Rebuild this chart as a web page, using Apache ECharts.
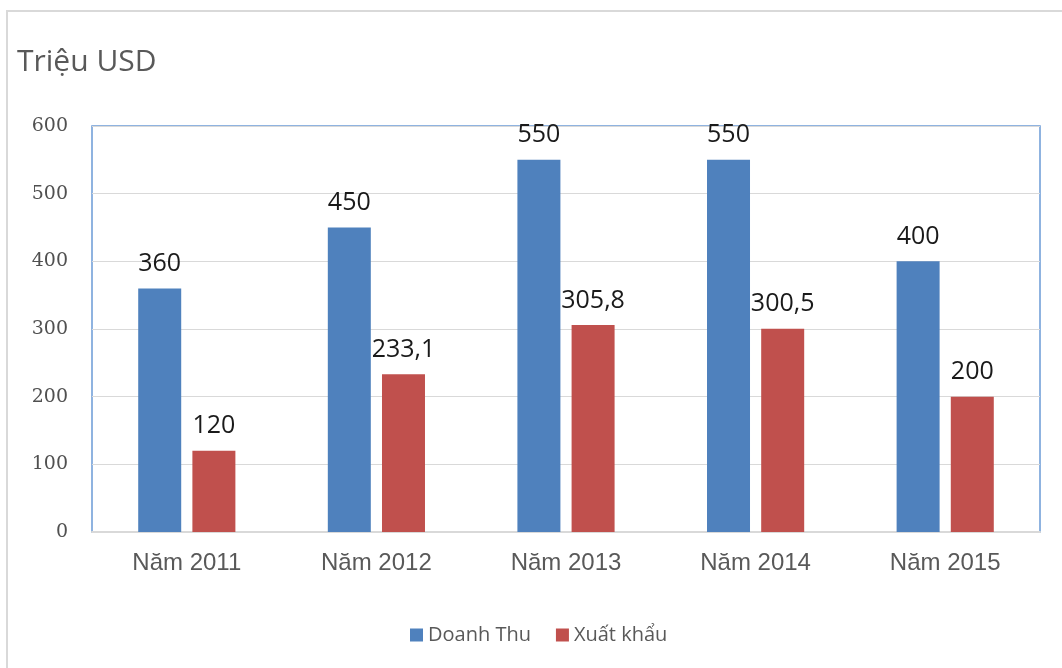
<!DOCTYPE html>
<html>
<head>
<meta charset="utf-8">
<script src="https://cdn.jsdelivr.net/npm/echarts@6/dist/echarts.min.js"></script>
<style>
  html, body { margin: 0; padding: 0; background: #fff; }
  #chart { width: 1062px; height: 668px; }
</style>
</head>
<body>
<div id="chart"></div>
<script>
// Revenue and export values per year (million USD)
const years = ['Năm 2011', 'Năm 2012', 'Năm 2013', 'Năm 2014', 'Năm 2015'];
const doanhThu = [360, 450, 550, 550, 400];
const xuatKhau = [120, 233.1, 305.8, 300.5, 200];
const yTicks = { min: 0, max: 600, interval: 100 };

const chart = echarts.init(document.getElementById('chart'), null, { renderer: 'canvas' });

// Values are shown with a decimal comma
const fmt = p => String(p.value).replace('.', ',');
const labelStyle = {
  show: true,
  position: 'top',
  distance: 12,
  formatter: fmt,
  color: '#1a1a1a',
  fontSize: 25,
  fontFamily: 'Open Sans, Noto Sans, sans-serif'
};

chart.setOption({
  animation: false,
  backgroundColor: '#fff',
  graphic: [{
    type: 'rect',
    shape: { x: 7, y: 11, width: 1100, height: 700 },
    style: { fill: 'none', stroke: '#d9d9d9', lineWidth: 2 },
    silent: true
  }],
  title: {
    text: 'Triệu USD',
    left: 12,
    top: 42,
    textStyle: {
      color: '#595959',
      fontSize: 30,
      fontWeight: 'normal',
      fontFamily: 'Open Sans, Noto Sans, sans-serif'
    }
  },
  legend: {
    bottom: 18,
    left: 405,
    itemWidth: 13,
    itemHeight: 13,
    itemGap: 25,
    icon: 'rect',
    textStyle: {
      color: '#595959',
      fontSize: 20,
      fontFamily: 'Open Sans, Noto Sans, sans-serif'
    },
    data: ['Doanh Thu', 'Xuất khẩu']
  },
  grid: {
    left: 92,
    right: 22,
    top: 126,
    bottom: 136,
    show: true,
    borderColor: '#6b9bd6',
    borderWidth: 1.5,
    backgroundColor: '#fff'
  },
  xAxis: {
    type: 'category',
    data: years,
    axisLine: { show: true, lineStyle: { color: '#d9d9d9', width: 2 } },
    axisTick: { show: false },
    axisLabel: {
      color: '#595959',
      fontSize: 24,
      margin: 19,
      fontFamily: 'Liberation Sans, Arial, sans-serif'
    }
  },
  yAxis: {
    type: 'value',
    min: yTicks.min,
    max: yTicks.max,
    interval: yTicks.interval,
    axisLine: { show: false },
    axisTick: { show: false },
    splitLine: { lineStyle: { color: '#d9d9d9', width: 1 } },
    axisLabel: {
      color: '#505050',
      fontSize: 19,
      margin: 24,
      fontFamily: 'DejaVu Serif, Liberation Serif, serif'
    }
  },
  series: [
    {
      name: 'Doanh Thu',
      type: 'bar',
      data: doanhThu,
      barWidth: 43,
      barGap: '26%',
      itemStyle: { color: '#4f81bd' },
      label: labelStyle
    },
    {
      name: 'Xuất khẩu',
      type: 'bar',
      data: xuatKhau,
      barWidth: 43,
      barGap: '26%',
      itemStyle: { color: '#c0504d' },
      label: labelStyle
    }
  ]
});
</script>
</body>
</html>
